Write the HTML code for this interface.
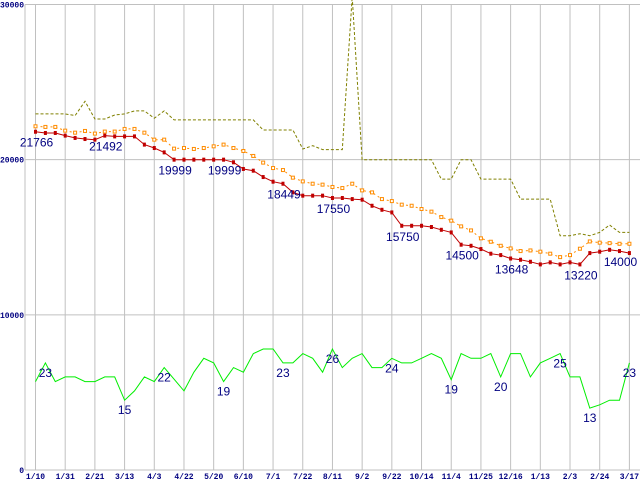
<!DOCTYPE html>
<html><head><meta charset="utf-8"><style>
html,body{margin:0;padding:0;background:#fff;}
svg{display:block;font-family:"Liberation Sans",sans-serif;}
</style></head><body>
<svg id="chart" width="640" height="480" viewBox="0 0 640 480"></svg>
<script>
const xLabels=["1/10","1/31","2/21","3/13","4/3","4/22","5/20","6/10","7/1","7/22","8/11","9/2","9/22","10/14","11/4","11/25","12/16","1/13","2/3","2/24","3/17"];
const yTicks=[0,10000,20000,30000];
const lowPrice=[21800,21720,21720,21550,21400,21330,21290,21550,21500,21500,21500,20970,20750,20470,20000,20000,20000,20000,20000,20000,19830,19400,19290,18880,18580,18450,17890,17680,17680,17680,17530,17530,17460,17420,17030,16770,16600,15740,15740,15740,15660,15480,15310,14520,14450,14240,13940,13850,13630,13550,13420,13250,13380,13250,13380,13250,13980,14070,14190,14110,13980];
const avgPrice=[22150,22110,22110,21870,21740,21850,21680,21810,21810,21980,21980,21740,21290,21290,20710,20750,20690,20750,20860,20970,20750,20560,20240,19810,19460,19330,18840,18600,18450,18390,18240,18170,18450,18020,17890,17460,17330,17100,17030,16820,16650,16300,16070,15700,15440,14930,14710,14450,14280,14110,14150,14070,13940,13720,13850,14260,14730,14650,14620,14580,14580];
const maxPrice=[22950,22950,22950,22950,22840,23760,22620,22620,22880,22950,23140,23140,22670,23140,22560,22560,22560,22560,22560,22560,22560,22560,22560,21910,21910,21910,21910,20690,20900,20650,20650,20650,30500,20000,20000,20000,20000,20000,20000,20000,20000,18750,18750,20000,20000,18750,18750,18750,18750,17460,17460,17460,17460,15100,15100,15230,15100,15310,15790,15310,15310];
const shopCount=[19,23,19,20,20,19,19,20,20,15,17,20,19,22,19.5,17,21,24,23,19,22,21,25,26,26,23,23,25,24,21,26,22,24,25,22,22,24,23,23,24,25,24,19.4,25,24,24,25,20,25,25,20,23,24,25,20,20,13.3,14,15,15,23];
const priceLabels=[[0,21766],[7,21492],[14,19999],[19,19999],[25,18449],[30,17550],[37,15750],[43,14500],[48,13648],[55,13220],[59,14000]];
const countLabels=[[1,23],[9,15],[13,22],[19,19],[25,23],[30,26],[36,24],[42,19],[47,20],[53,25],[56,13],[60,23]];

const svg=document.getElementById('chart');
const NS='http://www.w3.org/2000/svg';
const X0=35.5,X1=629.4,AX=25,YB=470,YT=4.5,YMAX=30000;
const n=lowPrice.length;
function x(i){return X0+(X1-X0)*i/(n-1);}
function y(v){return YB-(YB-YT)*v/YMAX;}
function yc(c){return y(c*300);}
function mk(tag,attrs,parent){const e=document.createElementNS(NS,tag);for(const k in attrs)e.setAttribute(k,attrs[k]);(parent||svg).appendChild(e);return e;}

const grid=mk('g',{});


xLabels.forEach((l,i)=>{
  const gx=X0+(X1-X0)*i/(xLabels.length-1);
  const ln=mk('line',{x1:gx,x2:gx,y1:YT,y2:YB,stroke:'#c0c0c0','stroke-width':1},grid);
  
  
  const t=mk('text',{x:gx,y:479,'font-size':8,'font-weight':'bold',fill:'#000080','text-anchor':'middle','font-family':'Liberation Mono, monospace'});
  t.textContent=l;
  
  
});
yTicks.forEach(v=>{
  const ln=mk('line',{x1:AX,x2:640,y1:y(v),y2:y(v),stroke:'#c0c0c0','stroke-width':1},grid);
  
  
  const t=mk('text',{x:AX-1,y:y(v)+3,'font-size':8,'font-weight':'bold',fill:'#000080','text-anchor':'end','font-family':'Liberation Mono, monospace'});
  t.textContent=v;
  
  
});
const axis=mk('line',{x1:AX,x2:AX,y1:YT,y2:YB,stroke:'#c0c0c0','stroke-width':1});



function pts(arr,f){return arr.map((v,i)=>x(i).toFixed(1)+','+f(v).toFixed(1)).join(' ');}

const maxL=mk('polyline',{points:pts(maxPrice,y),fill:'none',stroke:'#808000','stroke-width':1,'stroke-dasharray':'3,2'});



const avgL=mk('polyline',{points:pts(avgPrice,y),fill:'none',stroke:'#ff8c00','stroke-width':1,'stroke-dasharray':'2,3'});


avgPrice.forEach((v,i)=>{
  const r=mk('rect',{x:x(i)-1.5,y:y(v)-1.5,width:3,height:3,fill:'#fff',stroke:'#ff8c00','stroke-width':1});
  
  
});

const lowL=mk('polyline',{points:pts(lowPrice,y),fill:'none',stroke:'#c00000','stroke-width':1});


lowPrice.forEach((v,i)=>{
  const r=mk('rect',{x:x(i)-1.5,y:y(v)-2,width:3,height:4,fill:'#c00000'});
  
  
});

const cntL=mk('polyline',{points:pts(shopCount,yc),fill:'none',stroke:'#00ee00','stroke-width':1});



priceLabels.forEach(([i,v])=>{
  const t=mk('text',{x:x(i)+1,y:y(lowPrice[i])+15,'font-size':12,fill:'#000080','text-anchor':'middle'});
  t.textContent=v;
  
  
});
countLabels.forEach(([i,v])=>{
  const t=mk('text',{x:x(i),y:yc(shopCount[i])+14,'font-size':12,fill:'#000080','text-anchor':'middle'});
  t.textContent=v;
  
  
});
</script>
</body></html>
